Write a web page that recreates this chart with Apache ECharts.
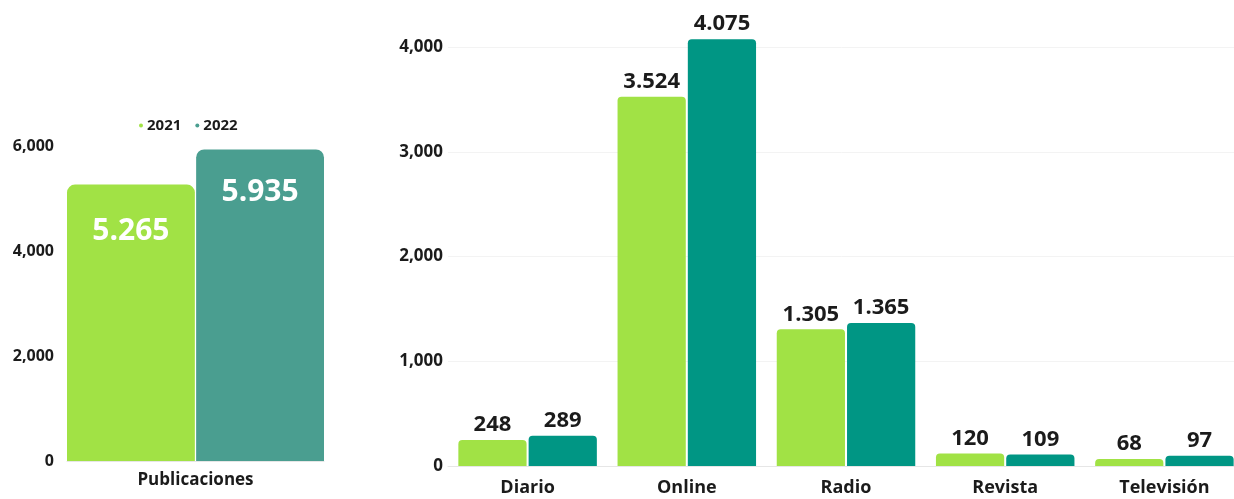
<!DOCTYPE html>
<html><head><meta charset="utf-8">
<script src="https://cdn.jsdelivr.net/npm/echarts@6/dist/echarts.min.js"></script>
<style>html,body{margin:0;padding:0;background:#fff}#c{width:1234px;height:499px}</style>
</head><body><div id="c"></div>
<script>
const years = ['2021', '2022'];
const totalCategory = ['Publicaciones'];
const total2021 = [5265];
const total2022 = [5935];
const mediaCategories = ['Diario', 'Online', 'Radio', 'Revista', 'Televisión'];
const media2021 = [248, 3524, 1305, 120, 68];
const media2022 = [289, 4075, 1365, 109, 97];

const FONT = 'Open Sans';
const DARK = '#1b1b1b';
const C21 = '#a1e245';
const C22L = '#4a9e90';
const C22R = '#009684';

const dotFmt = v => String(v).replace(/\B(?=(\d{3})+(?!\d))/g, '.');
const commaFmt = v => String(v).replace(/\B(?=(\d{3})+(?!\d))/g, ',');

const chart = echarts.init(document.getElementById('c'));
chart.setOption({
  animation: false,
  textStyle: { fontFamily: FONT },
  legend: {
    data: years, left: 134, top: 113, icon: 'circle', itemWidth: 4, itemHeight: 4, itemGap: 14,
    textStyle: { fontFamily: FONT, fontWeight: 'bold', fontSize: 15, color: DARK, padding: [0, 0, 0, -1] }
  },
  grid: [
    { left: 67, width: 257, top: 146, bottom: 38, outerBoundsMode: 'none', containLabel: false },
    { left: 448, width: 796, top: 47, bottom: 33, outerBoundsMode: 'none', containLabel: false }
  ],
  xAxis: [
    { type: 'category', gridIndex: 0, data: totalCategory,
      axisLine: { show: true, lineStyle: { color: '#e6e6e6' } }, axisTick: { show: false },
      axisLabel: { fontFamily: FONT, fontWeight: 'bold', fontSize: 17, color: DARK, margin: 11 } },
    { type: 'category', gridIndex: 1, data: mediaCategories,
      axisLine: { show: true, lineStyle: { color: '#e6e6e6' } }, axisTick: { show: false },
      axisLabel: { fontFamily: FONT, fontWeight: 'bold', fontSize: 18, color: DARK, margin: 13 } }
  ],
  yAxis: [
    { type: 'value', gridIndex: 0, min: 0, max: 6000, interval: 2000,
      splitLine: { show: false }, axisLine: { show: false }, axisTick: { show: false },
      axisLabel: { fontFamily: FONT, fontWeight: 'bold', fontSize: 16, color: DARK, margin: 13, formatter: commaFmt } },
    { type: 'value', gridIndex: 1, min: 0, max: 4000, interval: 1000,
      splitLine: { show: true, lineStyle: { color: '#f3f3f3' } }, axisLine: { show: false }, axisTick: { show: false },
      axisLabel: { fontFamily: FONT, fontWeight: 'bold', fontSize: 17, color: DARK, margin: 5, formatter: commaFmt } }
  ],
  series: [
    { name: years[0], type: 'bar', xAxisIndex: 0, yAxisIndex: 0, data: total2021,
      barCategoryGap: 0, barGap: '1%', itemStyle: { color: C21, borderRadius: [8, 8, 0, 0] },
      label: { show: true, position: 'insideTop', distance: 32, color: '#fff', fontFamily: FONT, fontWeight: 'bold', fontSize: 30, formatter: p => dotFmt(p.value) } },
    { name: years[1], type: 'bar', xAxisIndex: 0, yAxisIndex: 0, data: total2022,
      barCategoryGap: 0, barGap: '1%', itemStyle: { color: C22L, borderRadius: [8, 8, 0, 0] },
      label: { show: true, position: 'insideTop', distance: 28, color: '#fff', fontFamily: FONT, fontWeight: 'bold', fontSize: 30, formatter: p => dotFmt(p.value) } },
    { name: years[0], type: 'bar', xAxisIndex: 1, yAxisIndex: 1, data: media2021, clip: false,
      barCategoryGap: '13%', barGap: '3%', itemStyle: { color: C21, borderRadius: [4, 4, 0, 0] },
      label: { show: true, position: 'top', distance: 4, color: DARK, fontFamily: FONT, fontWeight: 'bold', fontSize: 22, formatter: p => dotFmt(p.value) } },
    { name: years[1], type: 'bar', xAxisIndex: 1, yAxisIndex: 1, data: media2022, clip: false,
      barCategoryGap: '13%', barGap: '3%', itemStyle: { color: C22R, borderRadius: [4, 4, 0, 0] },
      label: { show: true, position: 'top', distance: 4, color: DARK, fontFamily: FONT, fontWeight: 'bold', fontSize: 22, formatter: p => dotFmt(p.value) } }
  ]
});
</script></body></html>
